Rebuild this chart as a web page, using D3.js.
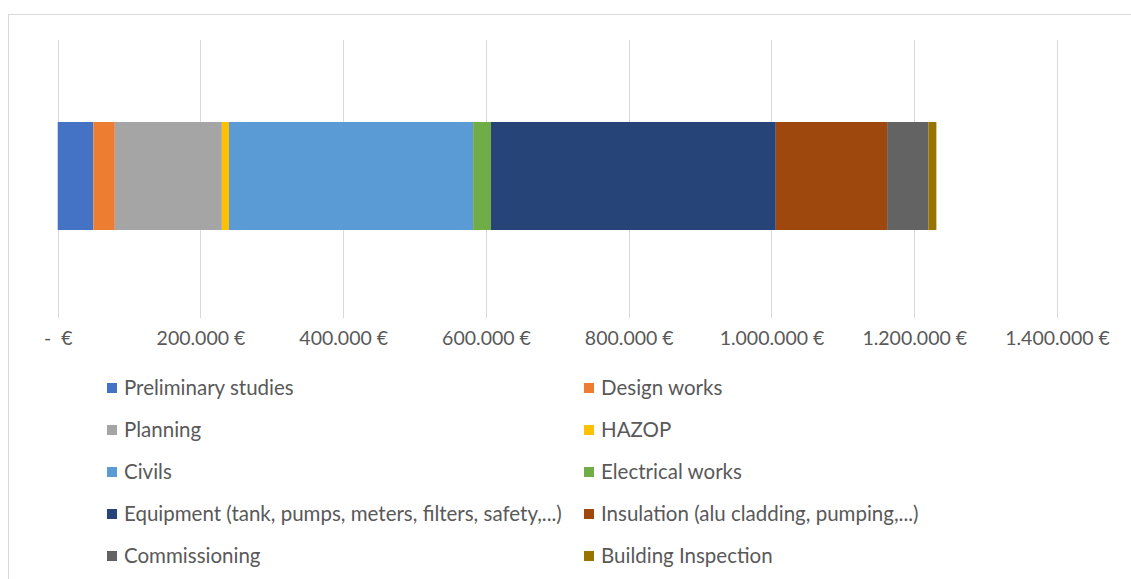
<!DOCTYPE html>
<html><head><meta charset="utf-8">
<script src="https://cdn.jsdelivr.net/npm/d3@7"></script>
<style>html,body{margin:0;padding:0;background:#fff;}svg{display:block;}</style>
</head><body>
<script>
const categories = ["Cost"];
const seriesNames = ["Preliminary studies","Design works","Planning","HAZOP","Civils","Electrical works","Equipment (tank, pumps, meters, filters, safety,...)","Insulation (alu cladding, pumping,...)","Commissioning","Building Inspection"];
const seriesValues = [50000, 30000, 150000, 10000, 342000, 25000, 399000, 156000, 58000, 11000];
const seriesColors = ["#4472C4","#ED7D31","#A5A5A5","#FFC000","#5B9BD5","#70AD47","#264478","#9E480E","#636363","#997300"];
const tickValues = [0,200000,400000,600000,800000,1000000,1200000,1400000];
const tickLabels = ["-  €","200.000 €","400.000 €","600.000 €","800.000 €","1.000.000 €","1.200.000 €","1.400.000 €"];

const W=1131,H=579;
const svg=d3.select("body").append("svg").attr("width",W).attr("height",H);
const font="Lato, 'Open Sans', sans-serif";
svg.append("rect").attr("x",8.5).attr("y",14.5).attr("width",W).attr("height",H).attr("fill","#fff").attr("stroke","#d9d9d9").attr("stroke-width",1);

const x=d3.scaleLinear().domain([0,1400000]).range([57.7,1057]);
const y=d3.scaleBand().domain(categories).range([34,318]).paddingInner(0.449).paddingOuter(0.449);

const g=svg.append("g");
g.selectAll("line.grid").data(tickValues).join("line").attr("class","grid")
 .attr("x1",d=>Math.round(x(d))+0.5).attr("x2",d=>Math.round(x(d))+0.5)
 .attr("y1",40).attr("y2",318).attr("stroke","#d9d9d9").attr("stroke-width",1);

const stacked=[];let acc=0;
seriesValues.forEach((v,i)=>{stacked.push({name:seriesNames[i],x0:acc,x1:acc+v,color:seriesColors[i]});acc+=v;});
g.selectAll("rect.seg").data(stacked).join("rect").attr("class","seg")
 .attr("x",d=>x(d.x0)).attr("width",d=>x(d.x1)-x(d.x0))
 .attr("y",y(categories[0])).attr("height",y.bandwidth())
 .attr("fill",d=>d.color);

const axis=d3.axisBottom(x).tickValues(tickValues).tickFormat((d,i)=>tickLabels[i]).tickSize(0).tickPadding(0);
const ax=svg.append("g").attr("transform","translate(0,338)").call(axis);
ax.select(".domain").remove();
ax.selectAll("text").attr("font-family",font).attr("font-size","19.5px").attr("fill","#595959").attr("dy","0.35em").style("white-space","pre");

const leg=svg.append("g");
const colX=[107,584];
seriesNames.forEach((n,i)=>{
  const col=i%2,row=Math.floor(i/2);
  const cy=388+row*42;
  leg.append("rect").attr("x",colX[col]).attr("y",cy-5).attr("width",10).attr("height",10).attr("fill",seriesColors[i]);
  leg.append("text").attr("x",colX[col]+17).attr("y",cy).attr("dy","0.35em")
    .attr("font-family",font).attr("font-size","20.5px").attr("fill","#595959").text(n);
});
</script>
</body></html>
